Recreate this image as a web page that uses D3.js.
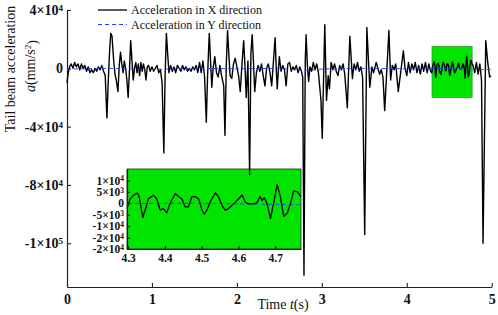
<!DOCTYPE html>
<html>
<head>
<meta charset="utf-8">
<script src="https://cdn.jsdelivr.net/npm/d3@7"></script>
<style>
  body { margin: 0; background: #fff; }
  svg { display: block; font-family: "Liberation Serif", "Times New Roman", serif; }
</style>
</head>
<body>
<div id="chart"></div>
<script>
// X direction acceleration (mm/s^2)
const timeX = [
  0.000, 0.015, 0.030, 0.050, 0.070, 0.090, 0.110, 0.130, 0.150, 0.170, 0.190, 0.210, 0.230, 0.250,
  0.270, 0.290, 0.310, 0.330, 0.350, 0.370, 0.390, 0.410, 0.430, 0.450, 0.470, 0.485, 0.500, 0.515,
  0.530, 0.550, 0.565, 0.580, 0.600, 0.615, 0.630, 0.645, 0.660, 0.675, 0.690, 0.705, 0.720, 0.735,
  0.750, 0.765, 0.780, 0.795, 0.810, 0.825, 0.840, 0.855, 0.870, 0.885, 0.900, 0.915, 0.930, 0.945,
  0.960, 0.980, 1.000, 1.020, 1.040, 1.060, 1.080, 1.100, 1.120, 1.140, 1.155, 1.170, 1.185, 1.200,
  1.220, 1.240, 1.260, 1.280, 1.300, 1.320, 1.340, 1.360, 1.380, 1.400, 1.420, 1.440, 1.460, 1.480,
  1.500, 1.520, 1.540, 1.560, 1.580, 1.600, 1.620, 1.640, 1.655, 1.675, 1.690, 1.705, 1.720, 1.740,
  1.760, 1.780, 1.800, 1.820, 1.845, 1.860, 1.875, 1.890, 1.905, 1.920, 1.940, 1.960, 1.980, 2.000,
  2.020, 2.040, 2.060, 2.080, 2.095, 2.110, 2.130, 2.150, 2.165, 2.180, 2.195, 2.210, 2.230, 2.250,
  2.270, 2.290, 2.310, 2.330, 2.350, 2.370, 2.390, 2.410, 2.450, 2.465, 2.475, 2.490, 2.500, 2.520,
  2.540, 2.560, 2.580, 2.600, 2.620, 2.640, 2.660, 2.680, 2.700, 2.720, 2.740, 2.760, 2.775, 2.790,
  2.805, 2.815, 2.830, 2.845, 2.860, 2.880, 2.900, 2.920, 2.940, 2.960, 2.990, 3.005, 3.035, 3.055,
  3.075, 3.090, 3.110, 3.130, 3.150, 3.170, 3.190, 3.210, 3.230, 3.250, 3.270, 3.300, 3.330, 3.360,
  3.380, 3.400, 3.420, 3.440, 3.460, 3.480, 3.505, 3.530, 3.565, 3.590, 3.610, 3.640, 3.680, 3.700,
  3.720, 3.740, 3.790, 3.810, 3.830, 3.850, 3.870, 3.900, 3.960, 3.980, 4.000, 4.020, 4.040, 4.060,
  4.080, 4.100, 4.120, 4.140, 4.160, 4.180, 4.200, 4.220, 4.240, 4.260, 4.280,
  4.295, 4.306, 4.315, 4.325, 4.330, 4.340, 4.349, 4.355, 4.369, 4.378, 4.387, 4.396, 4.405, 4.414,
  4.428, 4.437, 4.446, 4.455, 4.464, 4.473, 4.482, 4.492, 4.501, 4.507, 4.514, 4.525, 4.537, 4.546,
  4.555, 4.564, 4.573, 4.582, 4.596, 4.610, 4.619, 4.628, 4.642, 4.651, 4.658, 4.664, 4.670, 4.678,
  4.687, 4.696, 4.705, 4.714, 4.723, 4.732, 4.741, 4.750, 4.761, 4.769,
  4.780, 4.800, 4.820, 4.840, 4.860, 4.880, 4.898, 4.930, 4.955, 4.976, 4.990
];
const accX = [
  -10000, -3000, 1000, 3000, 0, 4000, 1000, 3000, -1000, 3000, 0, 2000, -2000, 1000,
  -3000, -1000, -3000, 0, -2000, 1000, -1000, 2000, -2000, -5000, -34000, -10000, 10000, 24000,
  22000, 5000, -4000, -8000, -16000, 2000, 11000, 3000, -3000, 5000, 0, -8000, -20000, -2000,
  19000, 5000, -8000, 0, 4000, -3000, 3000, -5000, 4000, -2000, 3000, -1000, -8000, 1000,
  2000, -2000, 1000, -2000, 0, 2000, -3000, -1000, -10000, -58000, -5000, 24000, 10000, -3000,
  2000, -2000, 1000, -3000, 2000, 0, -2000, 2000, -1000, 1000, -2000, 0, -2000, 1000,
  -1000, 2000, -3000, 4000, -3000, 5000, -6000, -37000, -5000, 24000, 5000, -13000, 0, 8000,
  -3000, -6000, 2000, -5000, -12000, -46000, 2000, 26000, 10000, -5000, -7000, 3000, 7000, 1000,
  -5000, -16000, 3000, 19000, 2000, -20000, 5000, -73000, 10000, 23000, 5000, -16000, -3000, 2000,
  -2000, 3000, -5000, -12000, 0, 3000, -3000, -12000, 21000, -2000, -14000, 0, 8000, -2000,
  2000, -1000, -12000, 3000, 4000, -2000, 1000, -1000, 2000, -3000, 1000, -2000, -6000, -142000,
  5000, 23000, 2000, -9000, 1000, -2000, 4000, -1000, 3000, -3000, -22000, -48000, 30000, -22000,
  -5000, -14000, 4000, -1000, 3000, -2000, -5000, 2000, -1000, 3000, -4000, -27000, 22000, -7000,
  3000, -1000, 4000, -2000, 1000, -6000, -114000, 28000, -13000, 1000, -3000, 4000, -4000, -1000,
  -6000, -29000, 26000, -8000, 2000, -1000, 3000, -16000, 12000, 0, -5000, 4000, -3000, 3000,
  -1000, 4000, -3000, 2000, -4000, 3000, -2000, 4000, -3000, 3000, -2000,
  -3000, 2000, 3500, 4500, 2800, -6200, -1600, 2000, 3500, 1900, -3000, -2300, -4200, -100,
  4200, 3000, 2000, -1600, -1600, 2800, 3000, 1900, -3000, -4800, -3000, 1200, 4500, 2800,
  -900, -3000, -2300, -900, 1200, 3600, 400, -300, -300, 400, 3000, 1200, 2500, -300,
  -6700, 400, 8300, 2800, -5700, -4500, -300, 5400, 5000, 3000,
  2000, -3000, 4000, -4000, 3000, -8000, -120000, 19000, 3000, -6000, -5000
];

// Y direction acceleration (mm/s^2), stays close to zero
const timeY = [0, 0.5, 1.0, 1.5, 2.0, 2.5, 2.8, 3.0, 3.5, 4.0, 4.5, 4.9, 5.0];
const accY = [-500, 0, -800, 0, -300, 0, -1500, -500, 0, -300, 0, -1000, -500];

const seriesNames = ['Acceleration in X direction', 'Acceleration in Y direction'];

const xTicks = [0, 1, 2, 3, 4, 5];
const yTickVals = [40000, 0, -40000, -80000, -120000];
const yTickLabels = ['4×10^4', '0', '-4×10^4', '-8×10^4', '-1×10^5'];

const zoomXDomain = [4.297, 4.77];
const zoomYDomain = [-20000, 15000];
const zoomXTicks = [4.3, 4.4, 4.5, 4.6, 4.7];
const zoomYTickVals = [10000, 5000, 0, -5000, -10000, -15000, -20000];
const zoomYTickLabels = ['1×10^4', '5×10^3', '0', '-5×10^3', '-1×10^4', '-2×10^4', '-2×10^4'];

// turn "4×10^4" into text with a raised exponent
function powerLabels(axisG, labels, supSize) {
  axisG.selectAll('.tick text').each(function (d, i) {
    const parts = labels[i].split('^');
    const t = d3.select(this).text(null);
    t.append('tspan').text(parts[0]);
    if (parts[1]) {
      t.append('tspan').attr('dy', '-0.42em').style('font-size', supSize).text(parts[1]);
    }
  });
}

function styleAxis(g, fontSize) {
  g.select('.domain').attr('stroke', '#222').attr('stroke-width', 1.2);
  g.selectAll('.tick line').attr('stroke', '#222').attr('stroke-width', 1.1);
  g.selectAll('.tick text')
    .attr('fill', '#111')
    .style('font-family', '"Liberation Serif", "Times New Roman", serif')
    .style('font-weight', 'bold')
    .style('font-size', fontSize);
}

const width = 498;
const height = 315;

const svg = d3.select('#chart').append('svg')
  .attr('width', width)
  .attr('height', height);

const x = d3.scaleLinear().domain([0, 5]).range([67, 491.7]);
const y = d3.scaleLinear().domain([-150000, 40000]).range([287, 10]);

const dataX = timeX.map((t, i) => ({ t, a: accX[i] }));
const dataY = timeY.map((t, i) => ({ t, a: accY[i] }));

// axes
const xAxisG = svg.append('g').attr('transform', `translate(0,${y.range()[0]})`)
  .call(d3.axisBottom(x).tickValues(xTicks).tickSizeInner(-4).tickSizeOuter(0).tickPadding(7)
    .tickFormat(d3.format('d')));
styleAxis(xAxisG, '14px');

const yAxisG = svg.append('g').attr('transform', `translate(${x.range()[0]},0)`)
  .call(d3.axisLeft(y).tickValues(yTickVals).tickSizeInner(-4).tickSizeOuter(0).tickPadding(4));
styleAxis(yAxisG, '14px');
powerLabels(yAxisG, yTickLabels, '9px');

// zoom window marker in the main plot
svg.append('rect')
  .attr('x', x(zoomXDomain[0]))
  .attr('y', y(zoomYDomain[1]))
  .attr('width', x(zoomXDomain[1]) - x(zoomXDomain[0]))
  .attr('height', y(zoomYDomain[0]) - y(zoomYDomain[1]))
  .attr('fill', '#00e400')
  .attr('stroke', '#1a8a1a')
  .attr('stroke-width', 0.6);

// inset
const ix = d3.scaleLinear().domain(zoomXDomain).range([127, 301]);
const iy = d3.scaleLinear().domain(zoomYDomain).range([249, 169]);

const inset = svg.append('g').attr('class', 'inset');
inset.append('rect')
  .attr('x', ix.range()[0])
  .attr('y', iy.range()[1])
  .attr('width', ix.range()[1] - ix.range()[0])
  .attr('height', iy.range()[0] - iy.range()[1])
  .attr('fill', '#00e400')
  .attr('stroke', '#222')
  .attr('stroke-width', 0.8);

svg.append('clipPath').attr('id', 'inset-clip')
  .append('rect')
  .attr('x', ix.range()[0])
  .attr('y', iy.range()[1])
  .attr('width', ix.range()[1] - ix.range()[0])
  .attr('height', iy.range()[0] - iy.range()[1]);

const insetLine = d3.line().x((d) => ix(d.t)).y((d) => iy(d.a));

inset.append('path')
  .datum(dataY)
  .attr('clip-path', 'url(#inset-clip)')
  .attr('fill', 'none')
  .attr('stroke', '#2a44ee')
  .attr('stroke-width', 1)
  .attr('stroke-dasharray', '4,3')
  .attr('d', insetLine);

inset.append('path')
  .datum(dataX.filter((d) => d.t >= zoomXDomain[0] - 0.01 && d.t <= zoomXDomain[1] + 0.02))
  .attr('clip-path', 'url(#inset-clip)')
  .attr('fill', 'none')
  .attr('stroke', '#000')
  .attr('stroke-width', 1.3)
  .attr('stroke-linejoin', 'round')
  .attr('d', insetLine);

const ixAxisG = inset.append('g').attr('transform', `translate(0,${iy.range()[0]})`)
  .call(d3.axisBottom(ix).tickValues(zoomXTicks).tickSizeInner(-3).tickSizeOuter(0).tickPadding(5)
    .tickFormat(d3.format('.1f')));
styleAxis(ixAxisG, '11.5px');

const iyAxisG = inset.append('g').attr('transform', `translate(${ix.range()[0]},0)`)
  .call(d3.axisLeft(iy).tickValues(zoomYTickVals).tickSizeInner(-3).tickSizeOuter(0).tickPadding(3));
styleAxis(iyAxisG, '11.5px');
powerLabels(iyAxisG, zoomYTickLabels, '7.5px');

// main series
const line = d3.line().x((d) => x(d.t)).y((d) => y(d.a));

svg.append('path')
  .datum(dataX)
  .attr('fill', 'none')
  .attr('stroke', '#000')
  .attr('stroke-width', 1.4)
  .attr('stroke-linejoin', 'round')
  .attr('d', line);

svg.append('path')
  .datum(dataY)
  .attr('fill', 'none')
  .attr('stroke', '#2a44ee')
  .attr('stroke-width', 1)
  .attr('stroke-dasharray', '4,3')
  .attr('d', line);

// legend
const legend = svg.append('g').attr('transform', 'translate(98,10)');
seriesNames.forEach((name, i) => {
  const row = legend.append('g').attr('transform', `translate(0,${i * 14.5})`);
  row.append('line')
    .attr('x1', 0).attr('x2', 29)
    .attr('stroke', i === 0 ? '#000' : '#2a44ee')
    .attr('stroke-width', i === 0 ? 1.3 : 1)
    .attr('stroke-dasharray', i === 0 ? null : '4,3');
  row.append('text')
    .attr('x', 33)
    .attr('dy', '0.35em')
    .style('font-size', '12px')
    .attr('fill', '#111')
    .text(name);
});

// axis titles
svg.append('text')
  .attr('transform', 'translate(15,69) rotate(-90)')
  .attr('text-anchor', 'middle')
  .style('font-size', '14px')
  .attr('fill', '#111')
  .text('Tail beam acceleration');

const unitLabel = svg.append('text')
  .attr('transform', 'translate(35,66) rotate(-90)')
  .attr('text-anchor', 'middle')
  .style('font-size', '14px')
  .attr('fill', '#111');
unitLabel.append('tspan').style('font-style', 'italic').text('a');
unitLabel.append('tspan').text('(mm/s');
unitLabel.append('tspan').attr('dy', '-0.4em').style('font-size', '9px').text('2');
unitLabel.append('tspan').attr('dy', '0.4em').text(')');

const timeLabel = svg.append('text')
  .attr('x', 283)
  .attr('y', 309)
  .attr('text-anchor', 'middle')
  .style('font-size', '14px')
  .attr('fill', '#111');
timeLabel.append('tspan').text('Time ');
timeLabel.append('tspan').style('font-style', 'italic').text('t');
timeLabel.append('tspan').text('(s)');
</script>
</body>
</html>
